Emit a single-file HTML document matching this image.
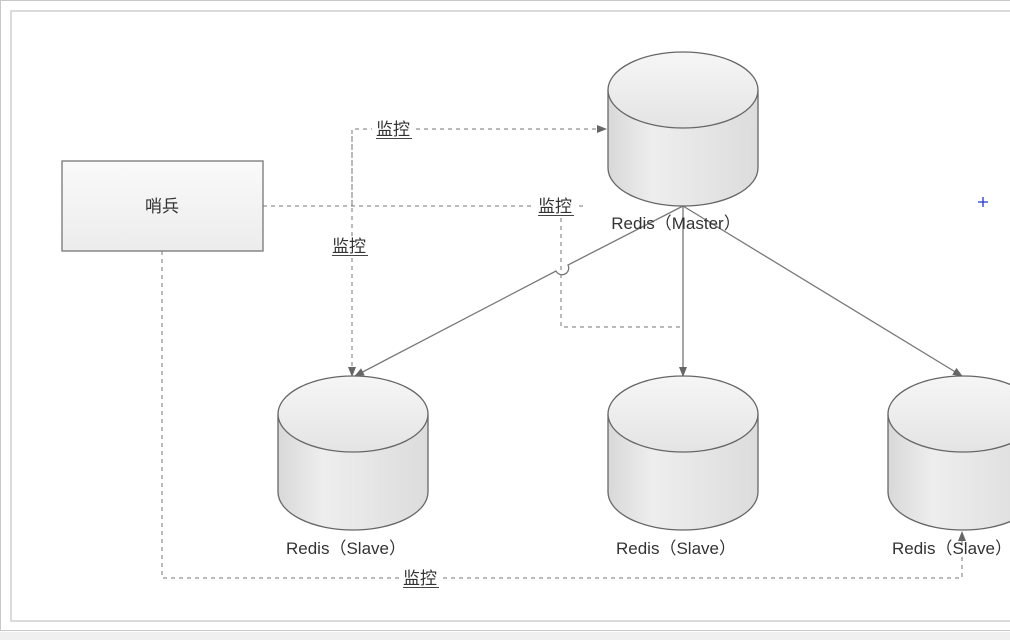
<!DOCTYPE html>
<html><head><meta charset="utf-8"><style>
html,body{margin:0;padding:0;background:#fff;}
svg{display:block;}
text{font-family:"Liberation Sans","Noto Sans CJK SC",sans-serif;font-size:17px;fill:#333;}
</style></head><body>
<svg width="1010" height="640" viewBox="0 0 1010 640" xmlns="http://www.w3.org/2000/svg">
<defs>
<linearGradient id="g" x1="0" x2="1" y1="0" y2="0">
<stop offset="0" stop-color="#d8d8d8"/><stop offset="0.3" stop-color="#eeeeee"/><stop offset="1" stop-color="#dcdcdc"/>
</linearGradient>
<linearGradient id="gt" x1="0" x2="0" y1="0" y2="1">
<stop offset="0" stop-color="#f6f6f6"/><stop offset="1" stop-color="#e4e4e4"/>
</linearGradient>
<linearGradient id="gb" x1="0" x2="0" y1="0" y2="1">
<stop offset="0" stop-color="#fafafa"/><stop offset="1" stop-color="#ececec"/>
</linearGradient>
<marker id="a" markerWidth="10" markerHeight="10" refX="9" refY="5" orient="auto" markerUnits="userSpaceOnUse">
<path d="M0,1 L10,5 L0,9 Z" fill="#666"/></marker>
<g id="cyl">
<path d="M0,38 L0,116 A75,38 0 0 0 150,116 L150,38" fill="url(#g)" stroke="#666" stroke-width="1.3"/>
<ellipse cx="75" cy="38" rx="75" ry="38" fill="url(#gt)" stroke="#666" stroke-width="1.3"/>
</g>
</defs>
<rect x="0.5" y="0.5" width="1020" height="630" fill="none" stroke="#c8c8c8"/>
<rect x="11" y="11" width="1010" height="610" fill="#fff" stroke="#cfcfcf" stroke-width="1.5"/>
<rect x="0" y="632" width="1010" height="8" fill="#f0f0f0"/>

<g fill="none" stroke="#777" stroke-width="1" stroke-dasharray="4,4">
<path d="M263,206 L535,206"/>
<path d="M579,206 L583,206"/>
<path d="M352,206 L352,129 L372,129"/>
<path d="M416,129 L606,129" marker-end="url(#a)"/>
<path d="M352,136 L352,237"/>
<path d="M352,258 L352,376" marker-end="url(#a)"/>
<path d="M561,218 L561,327 L683,327"/>
<path d="M162,251 L162,578 L400,578"/>
<path d="M443,578 L962,578 L962,532" marker-end="url(#a)"/>
</g>

<g fill="none" stroke="#777" stroke-width="1.3">
<path d="M683,206 L568,265 A6,6 0 0 1 556,271 L355,376" marker-end="url(#a)"/>
<path d="M683,206 L683,376" marker-end="url(#a)"/>
<path d="M683,206 L962,376" marker-end="url(#a)"/>
</g>

<rect x="62" y="161" width="201" height="90" fill="url(#gb)" stroke="#777" stroke-width="1.3"/>
<text x="162" y="212" text-anchor="middle">哨兵</text>

<use href="#cyl" x="608" y="52"/>
<use href="#cyl" x="278" y="376"/>
<use href="#cyl" x="608" y="376"/>
<use href="#cyl" x="888" y="376"/>

<text x="676" y="229" text-anchor="middle">Redis（Master）</text>
<text x="346" y="554" text-anchor="middle">Redis（Slave）</text>
<text x="676" y="554" text-anchor="middle">Redis（Slave）</text>
<text x="892" y="554">Redis（Slave）</text>

<g>
<text x="376" y="135">监控</text>
<text x="332" y="252">监控</text>
<text x="538" y="212">监控</text>
<text x="403" y="584">监控</text>
</g>
<g stroke="#444" stroke-width="1">
<path d="M376,138.5 H412"/><path d="M332,255.5 H368"/><path d="M538,215.5 H574"/><path d="M403,587.5 H439"/>
</g>

<path d="M983,197 L983,207 M978,202 L988,202" stroke="#2233dd" stroke-width="1.3"/>
</svg>
</body></html>
